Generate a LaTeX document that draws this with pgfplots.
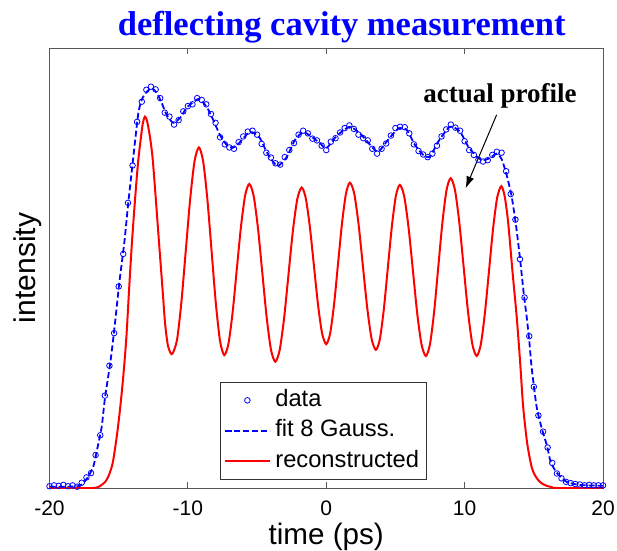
\documentclass[border=0pt]{standalone}
\usepackage{pgfplots}
\pgfplotsset{compat=1.18}
\usepackage{fontspec}
\setmainfont{Liberation Sans}
\newfontfamily\timesfont{Liberation Serif}
\usetikzlibrary{arrows.meta}
\begin{document}
\begin{tikzpicture}
\path[use as bounding box] (-49.5pt,-62pt) rectangle (567.5pt,488pt);
\begin{axis}[
  at={(0pt,0pt)}, anchor=south west,
  scale only axis, width=553.5pt, height=440pt,
  xmin=-20, xmax=20, ymin=0, ymax=1,
  xtick={-20,-10,0,10,20}, xticklabels={-20,-10,0,10,20},
  ytick=\empty,
  tick align=inside, major tick length=6pt,
  axis line style={black!65, line width=0.9pt},
  every tick/.style={black!65, line width=0.9pt},
  xticklabel style={font=\fontsize{21}{24}\selectfont, anchor=base, yshift=-27pt, inner sep=0pt},
  every axis x label/.style={at={(axis description cs:0.5,-0.1273)}, anchor=base},
  every axis y label/.style={at={(axis description cs:-0.0244,0.5)}, rotate=90, anchor=base},
  every axis title/.style={at={(axis description cs:0.528,1.0273)}, anchor=base},
  xlabel={\fontsize{29.6}{32}\selectfont time (ps)},
  ylabel={\fontsize{30}{32}\selectfont intensity},
  title={\timesfont\bfseries\fontsize{34.5}{38}\selectfont\color{blue} deflecting cavity measurement},
  legend image code/.code={\path[draw=none,fill=none] (0pt,0pt) -- (47pt,0pt);\draw[mark repeat=2,mark phase=2,#1] plot coordinates {(0pt,0pt) (22.5pt,0pt) (45pt,0pt)};},
  legend style={at={(axis description cs:0.308,0.0182)}, anchor=south west,
    draw=black!80, line width=0.8pt, inner xsep=3.5pt, inner ysep=3pt, row sep=0pt,
    font=\fontsize{23.7}{26}\selectfont,
    nodes={inner xsep=3.5pt, inner ysep=3pt, text height=18pt, text depth=6.5pt}},
  legend cell align=left,
  clip=true,
]
\addplot[only marks, mark=o, mark size=2.8pt, blue, mark options={line width=0.8pt}] coordinates {
(-20.00,0.004) (-19.67,0.006) (-19.33,0.005) (-19.00,0.007) (-18.67,0.004) (-18.33,0.006)
(-18.00,0.003) (-17.67,0.012) (-17.33,0.024) (-17.00,0.034) (-16.67,0.075) (-16.33,0.120)
(-16.00,0.210) (-15.67,0.278) (-15.33,0.352) (-15.00,0.458) (-14.67,0.532) (-14.33,0.648)
(-14.00,0.733) (-13.67,0.832) (-13.33,0.878) (-13.00,0.905) (-12.67,0.912) (-12.33,0.906)
(-12.00,0.886) (-11.67,0.853) (-11.33,0.844) (-11.00,0.826) (-10.67,0.836) (-10.33,0.856)
(-10.00,0.868) (-9.67,0.872) (-9.33,0.886) (-9.00,0.882) (-8.67,0.872) (-8.33,0.850)
(-8.00,0.830) (-7.67,0.797) (-7.33,0.781) (-7.00,0.774) (-6.67,0.771) (-6.33,0.786)
(-6.00,0.799) (-5.67,0.810) (-5.33,0.812) (-5.00,0.803) (-4.67,0.782) (-4.33,0.762)
(-4.00,0.751) (-3.67,0.738) (-3.33,0.735) (-3.00,0.752) (-2.67,0.768) (-2.33,0.784)
(-2.00,0.803) (-1.67,0.812) (-1.33,0.806) (-1.00,0.794) (-0.67,0.790) (-0.33,0.778)
(0.00,0.768) (0.33,0.787) (0.67,0.795) (1.00,0.808) (1.33,0.818) (1.67,0.824)
(2.00,0.816) (2.33,0.803) (2.67,0.795) (3.00,0.790) (3.33,0.771) (3.67,0.760)
(4.00,0.771) (4.33,0.783) (4.67,0.801) (5.00,0.818) (5.33,0.821) (5.67,0.820)
(6.00,0.806) (6.33,0.781) (6.67,0.766) (7.00,0.758) (7.33,0.752) (7.67,0.760)
(8.00,0.778) (8.33,0.799) (8.67,0.815) (9.00,0.826) (9.33,0.819) (9.67,0.812)
(10.00,0.788) (10.33,0.768) (10.67,0.757) (11.00,0.746) (11.33,0.742) (11.67,0.745)
(12.00,0.757) (12.33,0.764) (12.67,0.762) (13.00,0.720) (13.33,0.668) (13.67,0.610)
(14.00,0.520) (14.33,0.433) (14.67,0.345) (15.00,0.230) (15.33,0.165) (15.67,0.128)
(16.00,0.092) (16.33,0.057) (16.67,0.033) (17.00,0.022) (17.33,0.014) (17.67,0.011)
(18.00,0.009) (18.33,0.008) (18.67,0.006) (19.00,0.007) (19.33,0.006) (19.67,0.006)
(20.00,0.006)
};
\addlegendentry{data}
\addplot[blue, line width=1.8pt, dash pattern=on 6pt off 3pt, smooth, tension=0.4] coordinates {
(-20,0.003) (-18.5,0.003) (-17.8,0.005) (-17.56,0.011) (-17.2,0.026) (-16.84,0.048)
(-16.59,0.083) (-16.23,0.139) (-15.99,0.205) (-15.58,0.291) (-15.27,0.374) (-14.96,0.465)
(-14.6,0.556) (-14.31,0.647) (-13.94,0.753) (-13.58,0.852) (-13.3,0.885) (-12.98,0.900)
(-12.62,0.909) (-12.25,0.898) (-11.89,0.875) (-11.53,0.848) (-11.06,0.830) (-10.57,0.841)
(-10.09,0.864) (-9.61,0.877) (-9.18,0.884) (-8.64,0.866) (-8.16,0.836) (-7.68,0.802)
(-7.2,0.780) (-6.76,0.773) (-6.24,0.786) (-5.64,0.807) (-5.3,0.808) (-4.79,0.795)
(-4.31,0.764) (-3.83,0.741) (-3.47,0.732) (-2.86,0.752) (-2.26,0.791) (-1.66,0.809)
(-1.06,0.798) (-0.46,0.784) (0.0,0.772) (0.75,0.800) (1.71,0.821) (2.56,0.802)
(3.28,0.776) (3.76,0.764) (4.36,0.787) (5.2,0.817) (5.81,0.814) (6.41,0.780)
(7.01,0.757) (7.49,0.753) (8.09,0.787) (8.94,0.821) (9.66,0.810) (10.26,0.776)
(10.87,0.753) (11.34,0.745) (11.83,0.750) (12.31,0.760) (12.67,0.748) (13.04,0.711)
(13.4,0.662) (13.71,0.598) (14.0,0.522) (14.28,0.440) (14.48,0.390) (14.67,0.335)
(14.84,0.275) (15.2,0.185) (15.57,0.136) (15.97,0.094) (16.21,0.060) (16.65,0.035)
(17.37,0.014) (18.33,0.007) (20,0.005)
};
\addlegendentry{fit 8 Gauss.}
\addplot[red, line width=2pt, smooth, tension=0.45] coordinates {
(-20,0) (-17.5,0) (-16.84,0.0) (-16.5,0.002) (-16.23,0.007) (-15.95,0.015) (-15.75,0.026)
(-15.55,0.043) (-15.39,0.064) (-15.14,0.117) (-14.91,0.177) (-14.67,0.253) (-14.45,0.340)
(-14.25,0.450) (-14.06,0.550) (-13.82,0.655) (-13.6,0.740) (-13.4,0.795) (-13.25,0.830)
(-13.1,0.844) (-12.95,0.834) (-12.75,0.800) (-12.55,0.750) (-12.33,0.662) (-12.09,0.560)
(-11.85,0.460) (-11.65,0.375) (-11.45,0.325) (-11.25,0.307) (-11.1,0.306)
(-10.783,0.337) (-10.467,0.423) (-10.15,0.540) (-9.833,0.657) (-9.517,0.743) (-9.2,0.774)
(-8.895,0.742) (-8.59,0.656) (-8.285,0.538) (-7.98,0.420) (-7.675,0.334) (-7.37,0.302)
(-7.068,0.328) (-6.767,0.399) (-6.465,0.497) (-6.163,0.594) (-5.862,0.665) (-5.56,0.691)
(-5.247,0.664) (-4.933,0.590) (-4.62,0.489) (-4.307,0.388) (-3.993,0.314) (-3.68,0.287)
(-3.363,0.314) (-3.047,0.386) (-2.73,0.485) (-2.413,0.584) (-2.097,0.656) (-1.78,0.683)
(-1.483,0.659) (-1.187,0.594) (-0.89,0.505) (-0.593,0.416) (-0.297,0.351) (0.0,0.327)
(0.285,0.352) (0.57,0.419) (0.855,0.511) (1.14,0.602) (1.425,0.669) (1.71,0.694)
(2.023,0.669) (2.337,0.599) (2.65,0.504) (2.963,0.409) (3.277,0.339) (3.59,0.314)
(3.878,0.339) (4.167,0.408) (4.455,0.502) (4.743,0.595) (5.032,0.664) (5.32,0.689)
(5.633,0.663) (5.947,0.592) (6.26,0.495) (6.573,0.397) (6.887,0.326) (7.2,0.300)
(7.498,0.327) (7.797,0.401) (8.095,0.502) (8.393,0.603) (8.692,0.677) (8.99,0.704)
(9.303,0.677) (9.617,0.603) (9.93,0.502) (10.243,0.401) (10.557,0.327) (10.87,0.300)
(11.167,0.326) (11.463,0.397) (11.76,0.493) (12.057,0.590) (12.353,0.660) (12.65,0.686)
(12.9,0.662) (13.15,0.602) (13.47,0.488) (13.76,0.390) (14.0,0.291) (14.23,0.185)
(14.52,0.102) (14.84,0.048) (15.1,0.028) (15.32,0.018) (15.6,0.010) (15.93,0.005)
(16.3,0.002) (16.65,0) (20,0)
};
\addlegendentry{reconstructed}
\node[font=\timesfont\bfseries\fontsize{27}{30}\selectfont, inner sep=0pt] at (axis cs:12.55,0.891) {actual profile};
\draw[black, line width=1pt, -{Latex[length=12pt,width=8pt]}] (axis cs:12.31,0.848) -- (axis cs:10.07,0.681);
\end{axis}
\end{tikzpicture}
\end{document}
